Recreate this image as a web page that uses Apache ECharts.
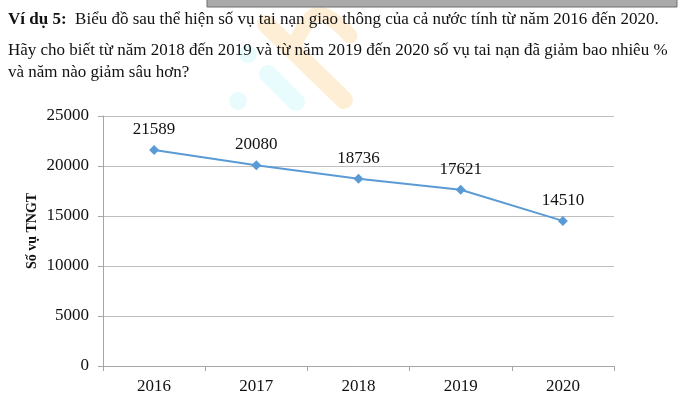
<!DOCTYPE html>
<html>
<head>
<meta charset="utf-8">
<script src="https://cdn.jsdelivr.net/npm/echarts@6/dist/echarts.min.js"></script>
<style>
  html, body { margin: 0; padding: 0; background: #fff; }
  #chart { width: 683px; height: 403px; }
</style>
</head>
<body>
<div id="chart"></div>
<script>
// Traffic accidents nationwide, 2016–2020
const years = ['2016', '2017', '2018', '2019', '2020'];
const accidents = [21589, 20080, 18736, 17621, 14510];
const yTicks = { min: 0, max: 25000, interval: 5000 };
const yAxisName = 'Số vụ TNGT';

const heading = 'Biểu đồ sau thể hiện số vụ tai nạn giao thông của cả nước tính từ năm 2016 đến 2020.';
const question1 = 'Hãy cho biết từ năm 2018 đến 2019 và từ năm 2019 đến 2020 số vụ tai nạn đã giảm bao nhiêu %';
const question2 = 'và năm nào giảm sâu hơn?';

const serif = '"Liberation Serif", "DejaVu Serif", serif';
const chart = echarts.init(document.getElementById('chart'), null, { renderer: 'canvas' });

chart.setOption({
  backgroundColor: '#ffffff',
  animation: false,
  grid: { left: 103, right: 69, top: 116, bottom: 37, containLabel: false },
  graphic: [
    // faint logo shapes behind the text
    { type: 'polyline', z: 0, silent: true,
      shape: { points: [[266, 24], [344, 100]] },
      style: { stroke: '#feeed6', lineWidth: 18, lineCap: 'round', fill: null } },
    { type: 'polyline', z: 0, silent: true,
      shape: { points: [[294, 46], [318, 14], [350, 36]], smooth: 0.4 },
      style: { stroke: '#feeed6', lineWidth: 15, lineCap: 'round', lineJoin: 'round', fill: null } },
    { type: 'circle', z: 0, silent: true,
      shape: { cx: 248, cy: 54, r: 9 }, style: { fill: '#e8fbfd' } },
    { type: 'polyline', z: 0, silent: true,
      shape: { points: [[268, 74], [296, 102]] },
      style: { stroke: '#e8fbfd', lineWidth: 18, lineCap: 'round', fill: null } },
    { type: 'circle', z: 0, silent: true,
      shape: { cx: 238, cy: 101, r: 9 }, style: { fill: '#e8fbfd' } },
    // strip along the top edge
    { type: 'rect', z: 1, silent: true,
      shape: { x: 207, y: -3, width: 470, height: 10 },
      style: { fill: '#aaaaaa', stroke: '#6f6f6f', lineWidth: 1 } },
    // exercise text
    { type: 'text', z: 5, left: 8, top: 11,
      style: {
        text: '{b|Ví dụ 5:}  ' + heading,
        rich: {
          b: { fontFamily: serif, fontSize: 17, fontWeight: 'bold', fill: '#111' }
        },
        fontFamily: serif, fontSize: 17, fill: '#111'
      } },
    { type: 'text', z: 5, left: 8, top: 42,
      style: { text: question1, fontFamily: serif, fontSize: 17, fill: '#111' } },
    { type: 'text', z: 5, left: 8, top: 64,
      style: { text: question2, fontFamily: serif, fontSize: 17, fill: '#111' } }
  ],
  xAxis: {
    type: 'category',
    data: years,
    boundaryGap: true,
    axisLine: { show: true, lineStyle: { color: '#a6a6a6', width: 1 } },
    axisTick: { show: true, length: 5, lineStyle: { color: '#a6a6a6' } },
    axisLabel: { color: '#111', fontFamily: serif, fontSize: 17, margin: 12 },
    splitLine: { show: false }
  },
  yAxis: {
    type: 'value',
    min: yTicks.min,
    max: yTicks.max,
    interval: yTicks.interval,
    name: yAxisName,
    nameLocation: 'middle',
    nameGap: 64,
    nameMoveOverlap: false,
    nameRotate: 90,
    nameTextStyle: {
      color: '#111', fontFamily: serif, fontSize: 14, fontWeight: 'bold',
      padding: [0, 0, 0, 20]
    },
    axisLine: { show: true, lineStyle: { color: '#a6a6a6', width: 1 } },
    axisTick: { show: true, length: 5, lineStyle: { color: '#a6a6a6' } },
    axisLabel: {
      color: '#111', fontFamily: serif, fontSize: 17, margin: 14,
      formatter: (v) => String(v)
    },
    splitLine: { show: true, lineStyle: { color: '#bfbfbf', width: 1 } }
  },
  series: [{
    type: 'line',
    data: accidents,
    symbol: 'diamond',
    symbolSize: 10,
    lineStyle: { color: '#5b9bd5', width: 2 },
    itemStyle: { color: '#5b9bd5' },
    label: {
      show: true,
      position: 'top',
      distance: 7,
      color: '#111',
      fontFamily: serif,
      fontSize: 17
    }
  }]
});
</script>
</body>
</html>
